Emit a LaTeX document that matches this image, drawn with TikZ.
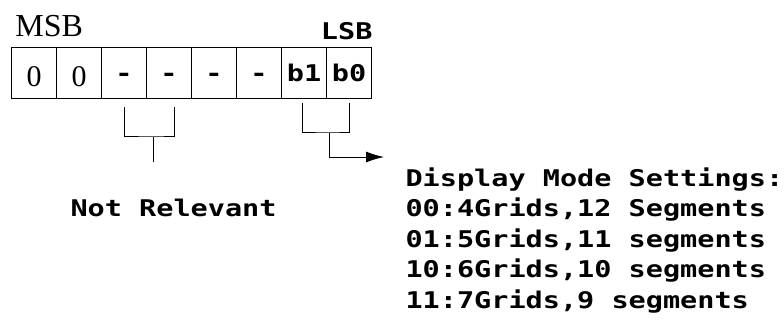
\documentclass[tikz,border=0pt]{standalone}
\usepackage{fontspec}
\setmainfont{Liberation Serif}
\newfontfamily\pixfont[FakeStretch=1.24]{DejaVu Sans Mono Bold}
\usetikzlibrary{arrows.meta,calc,positioning}

\tikzset{
  pix/.style={font=\pixfont\fontsize{23}{23}\selectfont},
  regcell/.style={draw, line width=1pt, minimum width=45pt, minimum height=50.5pt, inner sep=0pt, outer sep=0pt},
  zcell/.style={regcell, font=\fontsize{30}{30}\selectfont, text height=27.4pt, text depth=0pt},
  pcell/.style={regcell, pix, text height=18pt, text depth=0pt},
}

\begin{document}
\begin{tikzpicture}[x=1pt,y=-1pt,line width=1pt]
  \useasboundingbox (0,0) rectangle (784,334);
  % register, MSB left
  \foreach \n/\sty/\lab in {7/zcell/0, 6/zcell/0, 5/pcell/-, 4/pcell/-, 3/pcell/-, 2/pcell/-, 1/pcell/b1, 0/pcell/b0}{
    \node[\sty] (bit\n) at ({34+45*(7-\n)},73) {\lab};
  }
  \node[anchor=base west, inner sep=0pt, font=\fontsize{32}{32}\selectfont] (msb) at (15,36.5) {MSB};
  \node[anchor=base east, inner sep=0pt, pix] (lsb) at (373,40) {LSB};

  % unused bits
  \coordinate (nrjoin) at (153,137);
  \coordinate (nrend) at (153,162);
  \draw ([yshift=-9pt]bit5.south) |- (nrjoin) -| ([xshift=5pt,yshift=-9pt]bit4.south);
  \draw (nrjoin) -- (nrend);
  \node[anchor=base west, inner sep=0pt, pix] (notrel) at (70,216.5) {Not Relevant};

  % mode bits
  \coordinate (mdjoin) at (329,133);
  \coordinate (mdtip) at (384,157);
  \draw ([xshift=-2pt,yshift=-5pt]bit1.south) |- (mdjoin) -| ([yshift=-5pt]bit0.south);
  \draw[-{Latex[length=18pt,width=11pt]}] (mdjoin) |- (mdtip);

  \foreach \i/\txt in {0/{Display Mode Settings:}, 1/{00:4Grids,12 Segments}, 2/{01:5Grids,11 segments}, 3/{10:6Grids,10 segments}, 4/{11:7Grids,9 segments}}{
    \node[anchor=base west, inner sep=0pt, pix] (mode\i) at (405,{186+30.5*\i}) {\txt};
  }
\end{tikzpicture}
\end{document}
